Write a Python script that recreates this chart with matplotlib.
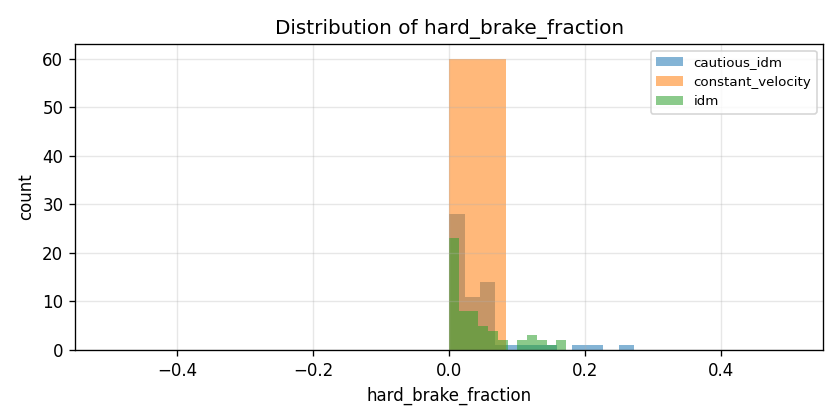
import matplotlib
matplotlib.use("Agg")
import matplotlib.pyplot as plt
import numpy as np

# counts per bin (12 bins from 0 to max)
cautious_counts = [28, 11, 14, 1, 1, 1, 1, 0, 1, 1, 0, 1]
cautious_max = 0.272
constant_values = [0.0] * 60
idm_counts = [23, 8, 8, 5, 4, 2, 0, 2, 3, 2, 1, 2]
idm_max = 0.172
nbins = 12


def binned(counts, vmax):
    edges = np.linspace(0, vmax, nbins + 1)
    centers = (edges[:-1] + edges[1:]) / 2
    return centers, edges, counts


fig = plt.figure(figsize=(7, 3.5), dpi=120)
ax = fig.add_axes([0.0893, 0.1667, 0.8907, 0.7283])

c, e, w = binned(cautious_counts, cautious_max)
ax.hist(c, bins=e, weights=w, alpha=0.55, label="cautious_idm")
ax.hist(constant_values, bins=nbins, alpha=0.55, label="constant_velocity")
c, e, w = binned(idm_counts, idm_max)
ax.hist(c, bins=e, weights=w, alpha=0.55, label="idm")

ax.set_title("Distribution of hard_brake_fraction")
ax.set_xlabel("hard_brake_fraction")
ax.set_ylabel("count")
ax.grid(True, alpha=0.3)
ax.legend(fontsize=8)

fig.savefig("out.png", dpi=120)
